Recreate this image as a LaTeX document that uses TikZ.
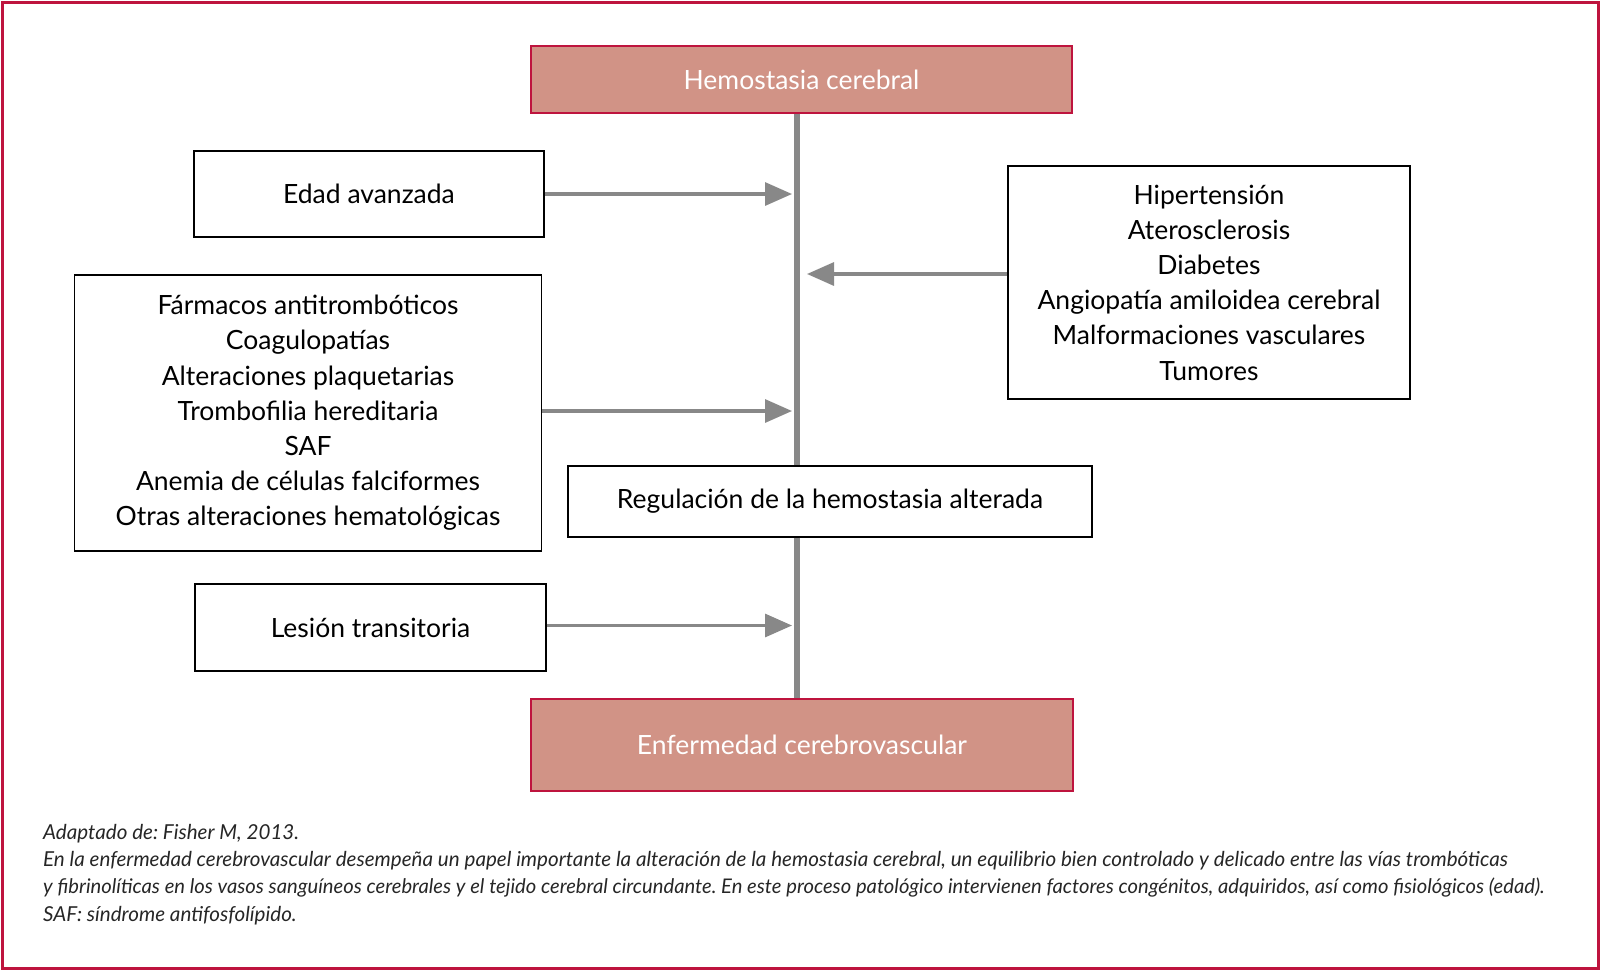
\documentclass[tikz,border=0pt]{standalone}
\usepackage{fontspec}
\setmainfont{Lato}
\usetikzlibrary{arrows.meta}
\definecolor{crim}{RGB}{190,20,62}
\definecolor{rose}{RGB}{209,147,134}
\definecolor{gline}{RGB}{136,136,136}
\tikzset{
  pinkbox/.style={draw=crim, line width=1.2pt, fill=rose, text=white, font=\fontsize{26.5}{35.2}\selectfont, inner sep=0pt},
  whitebox/.style={draw=black, line width=1.2pt, fill=white, text=black, font=\fontsize{26.5}{35.2}\selectfont, align=center, inner sep=0pt},
  spine/.style={draw=gline, line width=6pt},
  feed/.style={draw=gline, line width=3.2pt, -{Triangle[length=27pt,width=23pt]}},
  captext/.style={anchor=base west, inner sep=0pt, font=\fontsize{20.6}{24}\selectfont\itshape\frenchspacing, text=black!85}
}
\begin{document}
\begin{tikzpicture}[x=1pt,y=-1pt]
\useasboundingbox (0,0) rectangle (1600,970);
\draw[crim, line width=3pt] (2,2) rectangle (1598,968);
\node[pinkbox, minimum width=541pt, minimum height=67pt] (top) at (801.5,79.5) {Hemostasia cerebral};
\node[whitebox, minimum width=350pt, minimum height=86pt] (edad) at (369,194) {Edad avanzada};
\node[whitebox, minimum width=402pt, minimum height=233pt] (right) at (1209,282.5) {Hipertensión\\Aterosclerosis\\Diabetes\\Angiopatía amiloidea cerebral\\Malformaciones vasculares\\Tumores};
\node[whitebox, minimum width=467pt, minimum height=276pt] (left) at (308,413) {Fármacos antitrombóticos\\Coagulopatías\\Alteraciones plaquetarias\\Trombofilia hereditaria\\SAF\\Anemia de células falciformes\\Otras alteraciones hematológicas};
\node[whitebox, minimum width=524pt, minimum height=71pt] (reg) at (830,501.5) {Regulación de la hemostasia alterada};
\node[whitebox, minimum width=351pt, minimum height=87pt] (lesion) at (370.5,627.5) {Lesión transitoria};
\node[pinkbox, minimum width=542pt, minimum height=92pt] (bottom) at (802,745) {Enfermedad cerebrovascular};
\coordinate (sp) at (797,0);
\coordinate (tipL) at (792,0);
\coordinate (tipR) at (807,0);
\draw[spine] (top.south -| sp) -- (reg.north -| sp);
\draw[spine] (reg.south -| sp) -- (bottom.north -| sp);
\draw[feed] (edad.east) -- (edad.east -| tipL);
\draw[feed] ([yshift=2pt]left.east) -- ([yshift=2pt]left.east -| tipL);
\draw[feed] ([yshift=2pt]lesion.east) -- ([yshift=2pt]lesion.east -| tipL);
\draw[feed] ([yshift=8.5pt]right.west) -- ([yshift=8.5pt]right.west -| tipR);
\node[captext] (c1) at (43,839) {Adaptado de: Fisher M, 2013.};
\node[captext] (c2) at (43,866) {En la enfermedad cerebrovascular desempeña un papel importante la alteración de la hemostasia cerebral, un equilibrio bien controlado y delicado entre las vías trombóticas};
\node[captext, font=\fontsize{20.2}{24}\selectfont\itshape\frenchspacing] (c3) at (43,893.5) {y fibrinolíticas en los vasos sanguíneos cerebrales y el tejido cerebral circundante. En este proceso patológico intervienen factores congénitos, adquiridos, así como fisiológicos (edad).};
\node[captext] (c4) at (43,921) {SAF: síndrome antifosfolípido.};
\end{tikzpicture}
\end{document}
